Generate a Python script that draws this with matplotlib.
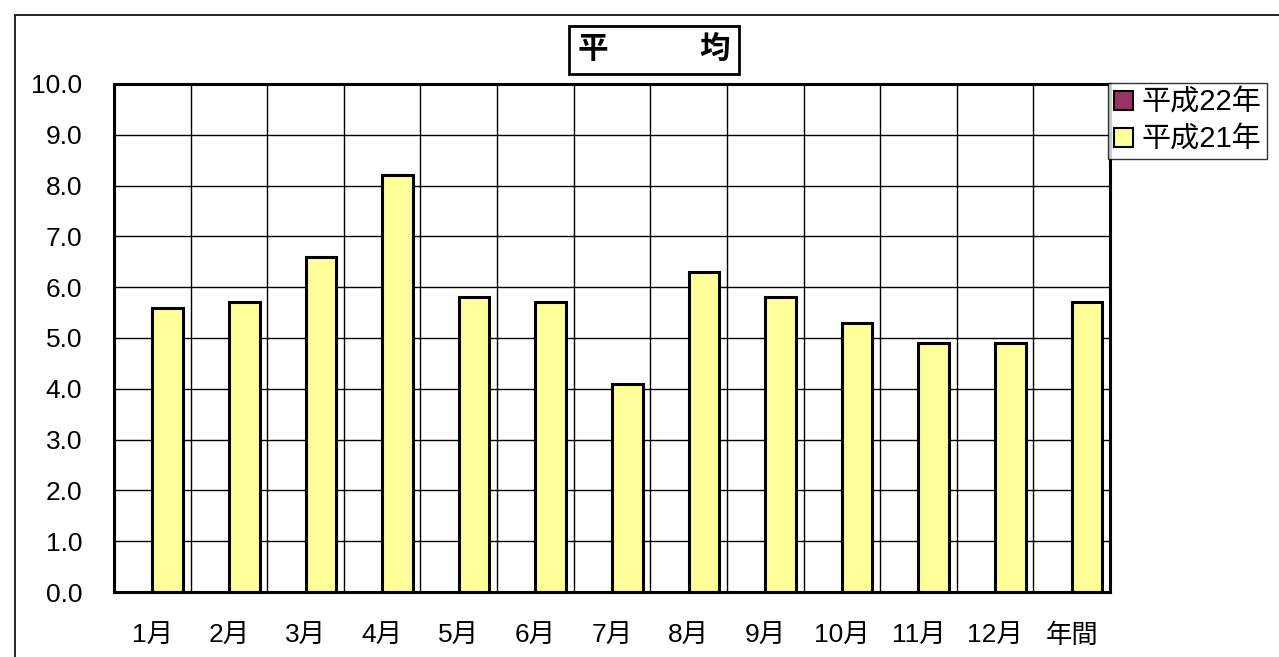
import matplotlib.pyplot as plt
import matplotlib.patches as mpatches
import numpy as np

plt.rcParams['font.family'] = ['Liberation Sans', 'Noto Sans CJK JP', 'DejaVu Sans']

months = ["1月", "2月", "3月", "4月", "5月", "6月", "7月", "8月", "9月", "10月", "11月", "12月", "年間"]
h22 = [np.nan] * 13
h21 = [5.6, 5.7, 6.6, 8.2, 5.8, 5.7, 4.1, 6.3, 5.8, 5.3, 4.9, 4.9, 5.7]
yticks = np.arange(0, 10.01, 1.0)

W, H = 1279, 657
fig = plt.figure(figsize=(W / 100, H / 100), dpi=100)

# outer frame of the chart area (right and bottom edges fall off the picture)
fig.patches.append(mpatches.Rectangle((15 / W, -0.05), 1.0, 1.05 - 15 / H,
                                      transform=fig.transFigure, fill=False,
                                      edgecolor="black", lw=1.2))

ax = fig.add_axes([114 / W, 1 - 592 / H, (1110 - 114) / W, (592 - 84) / H])

x = np.arange(len(months))
bw = 0.4
ax.bar(x - bw / 2, h22, width=bw, color="#993366", edgecolor="black", lw=2.2, zorder=3)
ax.bar(x + bw / 2, h21, width=bw, color="#FFFF99", edgecolor="black", lw=2.2, zorder=3)

ax.set_xlim(-0.5, len(months) - 0.5)
ax.set_ylim(0, 10)
ax.set_yticks(yticks)
ax.set_yticklabels([f"{v:.1f}" for v in yticks], fontsize=19)
ax.set_xticks(x)
ax.set_xticklabels(months, fontsize=19)
ax.tick_params(axis="y", length=0, pad=23)
ax.tick_params(axis="x", length=0, pad=23)

# vertical grid at category boundaries, horizontal at each tick
ax.set_xticks(np.arange(-0.5, len(months), 1.0), minor=True)
ax.grid(axis="x", which="minor", color="black", lw=1.0, zorder=1)
ax.grid(axis="y", which="major", color="black", lw=1.0, zorder=1)
ax.tick_params(which="minor", length=0)
for s in ax.spines.values():
    s.set_linewidth(2.2)
    s.set_zorder(4)

fig.text(654 / W, 1 - 50 / H, "平　　　均", fontsize=22, fontweight="bold",
         ha="center", va="center",
         bbox=dict(boxstyle="square,pad=0.3", fc="white", ec="black", lw=2))

handles = [mpatches.Patch(facecolor="#993366", edgecolor="black", lw=1.5, label="平成22年"),
           mpatches.Patch(facecolor="#FFFF99", edgecolor="black", lw=1.5, label="平成21年")]
leg = fig.legend(handles=handles, loc="upper left", bbox_to_anchor=(1108 / W, 1 - 83 / H),
                 fontsize=21, frameon=True, fancybox=False, handlelength=0.65,
                 handleheight=0.65, handletextpad=0.3, borderpad=0.2, labelspacing=0.3,
                 borderaxespad=0)
leg.get_frame().set_edgecolor("black")
leg.get_frame().set_linewidth(1.0)

fig.savefig("out.png", dpi=100)
